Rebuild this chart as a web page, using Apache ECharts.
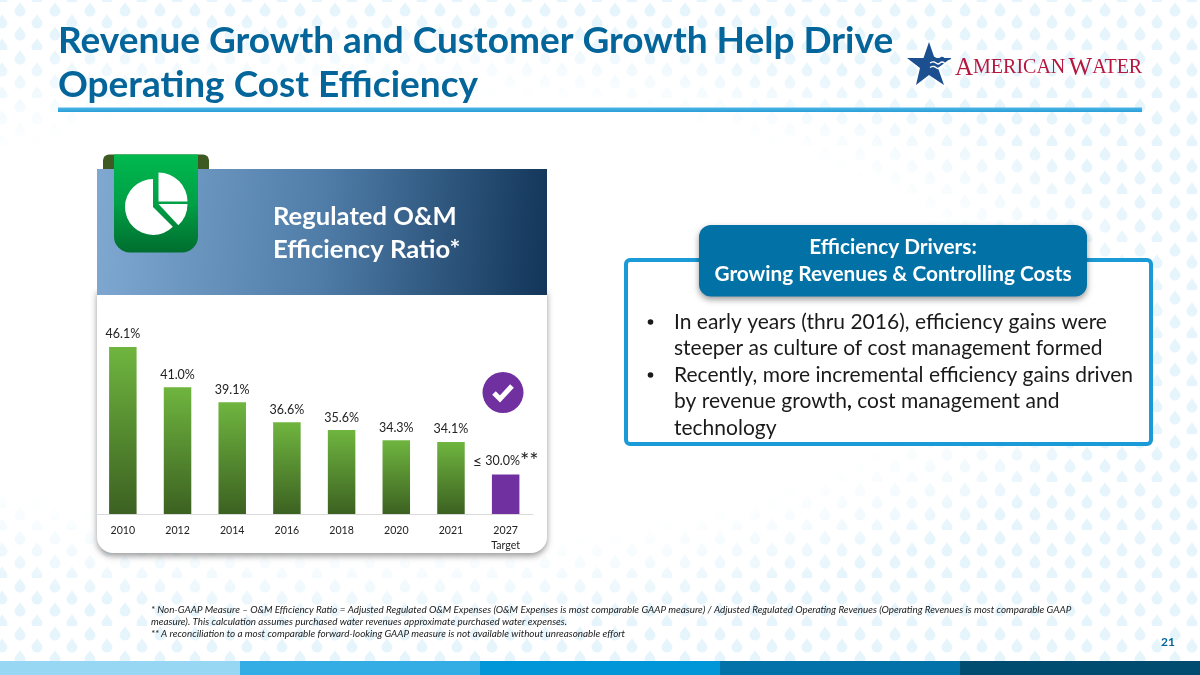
<!DOCTYPE html>
<html>
<head>
<meta charset="utf-8">
<style>
html,body{margin:0;padding:0;width:1200px;height:675px;overflow:hidden;background:#fff}
#bg{position:absolute;left:0;top:0;width:1200px;height:675px}
#c{position:absolute;left:0;top:0;width:1200px;height:675px}
</style>
</head>
<body>
<div id="bg"></div>
<div id="c"></div>
<script src="https://cdn.jsdelivr.net/npm/echarts@6/dist/echarts.min.js"></script>
<script>
const categories = ['2010','2012','2014','2016','2018','2020','2021','2027\nTarget'];
const ratioValues = [46.1,41.0,39.1,36.6,35.6,34.3,34.1,30.0];
const pointLabels = ['46.1%','41.0%','39.1%','36.6%','35.6%','34.3%','34.1%','≤ 30.0%'];
const titleLines = ['Revenue Growth and Customer Growth Help Drive','Operating Cost Efficiency'];
const panelTitle = ['Regulated O&M','Efficiency Ratio*'];
const driverTitle = ['Efficiency Drivers:','Growing Revenues & Controlling Costs'];
const driverLines = [
  'In early years (thru 2016), efficiency gains were',
  'steeper as culture of cost management formed',
  'Recently, more incremental efficiency gains driven',
  'by revenue growth{k|,} cost management and',
  'technology'];
const footnotes = [
  '* Non-GAAP Measure – O&M Efficiency Ratio = Adjusted Regulated O&M Expenses (O&M Expenses is most comparable GAAP measure) / Adjusted Regulated Operating Revenues (Operating Revenues is most comparable GAAP',
  'measure). This calculation assumes purchased water revenues approximate purchased water expenses.',
  '** A reconciliation to a most comparable forward-looking GAAP measure is not available without unreasonable effort'];
const pageNumber = '21';

// decorative droplet wallpaper
const drop = (x,y) => `<path d='M${x} ${y} C${x+1.5} ${y+3.5} ${x+5.5} ${y+6} ${x+5.5} ${y+9} A5.5 5.5 0 0 1 ${x-5.5} ${y+9} C${x-5.5} ${y+6} ${x-1.5} ${y+3.5} ${x} ${y}Z'/>`;
let tile = '';
[[18,0],[53,0],[0,12],[35,12],[70,12],[18,24],[53,24],[0,36],[35,36],[70,36],[18,48],[53,48]].forEach(p=>tile+=drop(p[0],p[1]));
const tileUri = "data:image/svg+xml;utf8,"+encodeURIComponent(`<svg xmlns='http://www.w3.org/2000/svg' width='70' height='48'><g fill='#e6f5fc'>${tile}</g></svg>`);
const bgEl = document.getElementById('bg');
bgEl.style.backgroundImage = `radial-gradient(ellipse 780px 305px at 400px 320px,#fff 74%,rgba(255,255,255,0) 100%),url("${tileUri}")`;
bgEl.style.backgroundPosition = '0 0,2px 2px';

const FONT = 'Lato';
const txt = (text,x,y,font,fill,align) => ({type:'text',z:1,style:{text,x,y,font,fill,align:align||'left',verticalAlign:'middle'}});
const lin = (x,y,x2,y2,stops) => ({type:'linear',x,y,x2,y2,colorStops:stops.map((c,i)=>({offset:i/(stops.length-1),color:c}))});

const footerColors = ['#97d7f3','#33ade3','#0096d8','#0272a8','#004b70'];
const g = [];
footerColors.forEach((c,i)=>g.push({type:'rect',z:-5,shape:{x:240*i,y:661,width:240,height:14},style:{fill:c}}));
g.push({type:'rect',z:-5,shape:{x:58,y:107.5,width:1084,height:4.5},style:{fill:lin(0,0,0,1,['#4db5e6','#2a9fd8'])}});
titleLines.forEach((t,i)=>g.push(txt(t,58,[41,85][i],'bold 37px '+FONT,'#04659b')));

// logo
g.push({type:'polygon',z:-4,shape:{points:[[929,42],[934.5,58],[951,58],[938,68],[944,85],[929,75],[916,85],[920,68],[907,58],[923.5,58]]},style:{fill:'#1c4f8f'}});
[58.5,63,67.5].forEach((y,i)=>g.push({type:'polyline',z:-3,shape:{smooth:0.5,points:[[930,y],[934,y-1],[938,y+1],[942,y-1],[946,y+1],[i===0?951:(947-i),y]]},style:{fill:'none',stroke:i===0?'#1c4f8f':'#fff',lineWidth:1.3}}));
g.push({type:'text',z:1,style:{x:955,y:68,verticalAlign:'middle',text:'{a|A}{b|MERICAN} {a|W}{b|ATER}',fill:'#b5173f',
  rich:{a:{font:'25px "Liberation Serif"',fill:'#b5173f'},b:{font:'20px "Liberation Serif"',fill:'#b5173f'}}}});

// left panel
g.push({type:'rect',z:-5,shape:{x:97,y:290,width:450,height:263,r:[0,0,16,16]},style:{fill:'#fff',shadowBlur:6,shadowOffsetY:3,shadowColor:'rgba(0,0,0,0.4)'}});
g.push({type:'rect',z:-4,shape:{x:103,y:154.5,width:106,height:30,r:[6,6,0,0]},style:{fill:'#3d5a22'}});
g.push({type:'rect',z:-3,shape:{x:97,y:169,width:450,height:126},style:{fill:lin(0,0.35,1,0.65,['#7fa8d1','#4f7da8','#13365a'])}});
g.push({type:'rect',z:-2,shape:{x:114,y:154.5,width:84,height:98,r:[0,0,16,16]},style:{fill:lin(0,0,0,1,['#00b94f','#00a046','#006d2e'])}});
g.push({type:'sector',z:-1,shape:{cx:153,cy:207,r:28,r0:0,startAngle:Math.PI*-0.5,endAngle:Math.PI*0.25,clockwise:false},style:{fill:'#fff'}});
g.push({type:'sector',z:-1,shape:{cx:158.5,cy:201.5,r:29,r0:0,startAngle:Math.PI*-0.5,endAngle:0},style:{fill:'#fff'}});
g.push({type:'sector',z:-1,shape:{cx:158.5,cy:204,r:29,r0:0,startAngle:0,endAngle:Math.PI*0.26},style:{fill:'#fff'}});
panelTitle.forEach((t,i)=>g.push(txt(t,273,[216.5,250][i],'bold 25.6px '+FONT,'#fff')));

// check badge
g.push({type:'circle',z:-1,shape:{cx:503,cy:392.5,r:20.5},style:{fill:'#7030a0'}});
g.push({type:'polyline',z:0,shape:{points:[[494,393],[500,399],[512,386]]},style:{fill:'none',stroke:'#fff',lineWidth:5}});

// right panel
g.push({type:'rect',z:-4,shape:{x:626,y:260,width:525,height:184,r:4},style:{fill:'#fff',stroke:'#1a9ad6',lineWidth:4}});
g.push({type:'rect',z:-3,shape:{x:699,y:225,width:388,height:71.5,r:12},style:{fill:'#0271a6',shadowBlur:6,shadowOffsetY:3,shadowColor:'rgba(0,0,0,0.4)'}});
driverTitle.forEach((t,i)=>g.push(txt(t,893,[247.5,274.5][i],'bold 20.8px '+FONT,'#fff','center')));
const bulletY = [322,348,375,401.5,428.5];
driverLines.forEach((t,i)=>{
  const e = txt(t,674,bulletY[i],'21px '+FONT,'#1a1a1a');
  e.style.rich = {k:{font:'bold 21px '+FONT,fill:'#1a1a1a'}};
  g.push(e);
});
[0,2].forEach(i=>g.push({type:'circle',z:1,shape:{cx:650.5,cy:bulletY[i],r:2.8},style:{fill:'#1a1a1a'}}));

// footnotes
footnotes.forEach((t,i)=>g.push(txt(t,151,[610,622,634][i],'italic 9.85px '+FONT,'#1a1a1a')));
g.push(txt(pageNumber,1168,642,'bold 12px '+FONT,'#04659b','center'));

const barGreen = lin(0,0,0,1,['#6fb53f','#3c6121']);
const chart = echarts.init(document.getElementById('c'),null,{width:1200,height:675});
chart.setOption({
  animation:false,
  backgroundColor:'transparent',
  textStyle:{fontFamily:FONT},
  graphic:{elements:g},
  grid:{left:95.5,top:316,width:437.5,height:198,containLabel:false},
  xAxis:{type:'category',data:categories,
    axisTick:{show:false},
    axisLine:{lineStyle:{color:'#d9d9d9',width:1}},
    axisLabel:{color:'#222',fontSize:10.6,fontFamily:FONT,margin:9,lineHeight:15,interval:0}},
  yAxis:{type:'value',min:25,max:50,show:false,splitLine:{show:false}},
  series:[{type:'bar',barWidth:27.5,
    data:ratioValues.map((v,i)=>({value:v,itemStyle:{color:i===ratioValues.length-1?'#7030a0':barGreen}})),
    label:{show:true,position:'top',distance:6,color:'#222',fontSize:12.5,fontFamily:FONT,
      formatter:p=>p.dataIndex===ratioValues.length-1?'{le|≤} {v|30.0%}{st|**}':pointLabels[p.dataIndex],
      rich:{le:{fontSize:16,lineHeight:14,color:'#222',fontFamily:FONT},v:{fontSize:12.5,lineHeight:14,color:'#222',fontFamily:FONT},st:{fontSize:22,lineHeight:14,color:'#222',fontFamily:FONT}}}
  }]
});
</script>
</body>
</html>
